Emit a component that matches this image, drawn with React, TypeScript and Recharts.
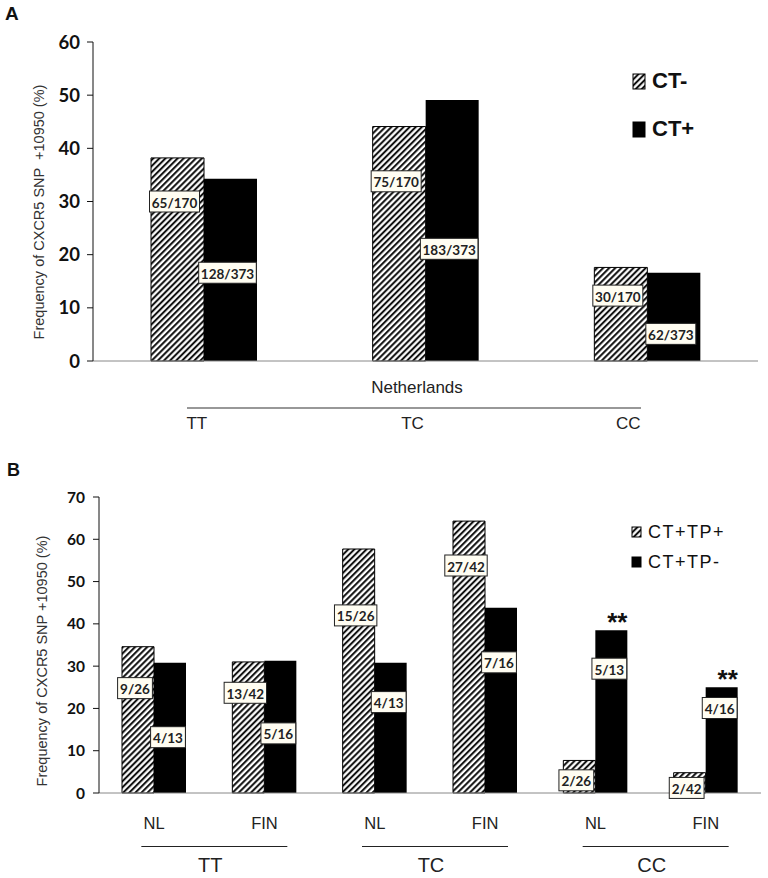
import { BarChart, Bar, XAxis, YAxis, LabelList, Legend } from "recharts";

// ---- panel A: Netherlands, CT- vs CT+ ----
const genotypesA = ["TT", "TC", "CC"];
const seriesA = ["CT-", "CT+"];
const ctNeg = [38.2, 44.1, 17.6];
const ctPos = [34.3, 49.1, 16.6];
const ctNegCounts = ["65/170", "75/170", "30/170"];
const ctPosCounts = ["128/373", "183/373", "62/373"];
const ticksA = [0, 10, 20, 30, 40, 50, 60];

// ---- panel B: NL / FIN, CT+TP+ vs CT+TP- ----
const popsB = ["NL", "FIN", "NL", "FIN", "NL", "FIN"];
const groupsB = ["TT", "TT", "TC", "TC", "CC", "CC"];
const seriesB = ["CT+TP+", "CT+TP-"];
const tpPos = [34.6, 31.0, 57.7, 64.3, 7.7, 4.8];
const tpNeg = [30.8, 31.3, 30.8, 43.8, 38.5, 25.0];
const tpPosCounts = ["9/26", "13/42", "15/26", "27/42", "2/26", "2/42"];
const tpNegCounts = ["4/13", "5/16", "4/13", "7/16", "5/13", "4/16"];
const sigB = ["", "", "", "", "**", "**"];
const ticksB = [0, 10, 20, 30, 40, 50, 60, 70];

const YTITLE_A = "Frequency of CXCR5 SNP  +10950 (%)";
const YTITLE_B = "Frequency of CXCR5 SNP +10950 (%)";

// layout only: height (in % units) at which each count box is centred
const boxAtA = { neg: [30, 33.8, 12.3], pos: [16.6, 21.1, 5.1] };
const boxAtB = {
  pos: [24.8, 23.7, 42, 53.8, 3.0, 1.2],
  neg: [13.2, 14.1, 21.5, 30.9, 29.4, 20.1],
};
const groupLabelShiftA = [7, 13, 19];

const dataA = genotypesA.map((g, i) => ({
  g,
  neg: ctNeg[i],
  pos: ctPos[i],
  negLbl: ctNegCounts[i],
  posLbl: ctPosCounts[i],
}));

const dataB = popsB.map((p, i) => ({
  p,
  grp: groupsB[i],
  tpp: tpPos[i],
  tpn: tpNeg[i],
  tppLbl: tpPosCounts[i],
  tpnLbl: tpNegCounts[i],
}));

const SANS = "'Liberation Sans', Arial, sans-serif";
const BOXFONT = "Lato, 'Liberation Sans', sans-serif";

const countBox = (values: number[], at: number[], dx: number) => (p: any) => {
  const vb = p.viewBox ?? p;
  const x = Number(vb.x), y = Number(vb.y), w = Number(vb.width), h = Number(vb.height);
  const i = p.index;
  const v = values[i];
  if (!v) return null;
  const text = String(p.value);
  const cx = x + w / 2 + dx;
  const cy = y + h - (h / v) * at[i];
  const digits = text.replace("/", "").length;
  const bw = digits * 7.6 + 12;
  return (
    <g key={`box-${i}`}>
      <rect x={cx - bw / 2} y={cy - 10.5} width={bw} height={21} fill="#fffdf2" stroke="#222" strokeWidth={1} />
      <text x={cx} y={cy + 1} textAnchor="middle" dominantBaseline="central" fontFamily={BOXFONT} fontWeight={700} fontSize={13.5} fill="#222">
        {text}
      </text>
    </g>
  );
};

const sigMark = (p: any) => {
  const vb = p.viewBox ?? p;
  const t = sigB[p.index];
  if (!t) return null;
  return (
    <text key={`sig-${p.index}`} x={Number(vb.x) + Number(vb.width) / 2 + 6} y={Number(vb.y) + 1} textAnchor="middle" fontFamily={SANS} fontWeight={700} fontSize={26} fill="#111">
      {t}
    </text>
  );
};

const legendBox = (order: string[], fontSize: number, bold: boolean, sw: [number, number], gap: number, spacing: number) => (props: any) => {
  const items = [...(props.payload || [])].sort((a: any, b: any) => order.indexOf(a.value) - order.indexOf(b.value));
  return (
    <div>
      {items.map((e: any, i: number) => (
        <div key={i} style={{ display: "flex", alignItems: "center", height: gap }}>
          <svg width={sw[0] + 2} height={sw[1] + 2} style={{ marginRight: 6 }}>
            <rect x={1} y={1} width={sw[0]} height={sw[1]} fill={e.color} stroke="#000" strokeWidth={1} />
          </svg>
          <span style={{ fontFamily: SANS, fontSize, fontWeight: bold ? 700 : 400, color: "#111", letterSpacing: spacing }}>{e.value}</span>
        </div>
      ))}
    </div>
  );
};

const yTitle = (title: string, cx: number, cy: number) => () => (
  <text x={cx} y={cy} transform={`rotate(-90 ${cx} ${cy})`} textAnchor="middle" dominantBaseline="central" fontFamily={SANS} fontSize={14.5} fill="#333" style={{ whiteSpace: "pre" }}>
    {title}
  </text>
);

const tickA = (props: any) => {
  const { x, index, payload } = props;
  return (
    <text x={Number(x) - groupLabelShiftA[index]} y={423} textAnchor="middle" dominantBaseline="central" fontFamily={SANS} fontSize={17} fill="#222">
      {payload.value}
    </text>
  );
};

const tickB = (props: any) => {
  const { x, index, payload } = props;
  const half = payload.offset || 55.2;
  const gx = Number(x) + half;
  return (
    <g>
      <text x={x} y={383} textAnchor="middle" dominantBaseline="central" fontFamily={SANS} fontSize={16.5} fill="#222">
        {payload.value}
      </text>
      {index % 2 === 0 && (
        <g>
          <line x1={gx + 5 - 73} x2={gx + 5 + 73} y1={406.5} y2={406.5} stroke="#222" strokeWidth={1.2} />
          <text x={gx + 1} y={425} textAnchor="middle" dominantBaseline="central" fontFamily={SANS} fontSize={20} fill="#222">
            {groupsB[index]}
          </text>
        </g>
      )}
    </g>
  );
};

const hatch = (id: string) => (
  <defs>
    <pattern id={id} patternUnits="userSpaceOnUse" width={4.3} height={4.3} patternTransform="rotate(45)">
      <rect width={4.3} height={4.3} fill="#fff" />
      <line x1={1.1} y1={-1} x2={1.1} y2={6} stroke="#000" strokeWidth={1.9} />
    </pattern>
  </defs>
);

export default function App() {
  return (
    <div style={{ position: "absolute", left: 0, top: 0, width: 768, height: 878, background: "#fff", overflow: "hidden" }}>
      <div style={{ position: "absolute", left: 0, top: 0 }}>
        <BarChart width={768} height={440} data={dataA} margin={{ top: 42, right: 10, bottom: 0, left: 0 }} barGap={0} barSize={53}>
          {hatch("hatchA")}
          <XAxis dataKey="g" height={79} interval={0} tickLine={false} axisLine={{ stroke: "#888" }} tick={tickA}
            label={{
              content: () => (
                <g>
                  <text x={417} y={387} textAnchor="middle" dominantBaseline="central" fontFamily={SANS} fontSize={17} fill="#222">Netherlands</text>
                  <line x1={187} x2={641} y1={408} y2={408} stroke="#333" strokeWidth={1.2} />
                </g>
              ),
            }}
          />
          <XAxis xAxisId="top" dataKey="g" orientation="top" height={0} tick={false} tickLine={false} axisLine={{ stroke: "#999" }} />
          <YAxis domain={[0, 60]} ticks={ticksA} width={93} tickSize={6} tickMargin={7} interval={0}
            axisLine={{ stroke: "#111" }} tickLine={{ stroke: "#111" }}
            tick={{ fontFamily: BOXFONT, fontWeight: 700, fontSize: 18.5, fill: "#111" }}
            label={{ content: yTitle(YTITLE_A, 39, 212) }}
          />
          <YAxis yAxisId="r" orientation="right" width={0} tick={false} tickLine={false} axisLine={{ stroke: "#999" }} />
          <Legend layout="vertical" align="center" verticalAlign="middle" content={legendBox(seriesA, 22, true, [12, 15], 48, 0)}
            wrapperStyle={{ position: "absolute", left: 632, top: 57, width: 130, height: 100 }} />
          <Bar dataKey="neg" name={seriesA[0]} fill="url(#hatchA)" stroke="#000" strokeWidth={1} isAnimationActive={false}>
            <LabelList dataKey="negLbl" content={countBox(ctNeg, boxAtA.neg, -3)} />
          </Bar>
          <Bar dataKey="pos" name={seriesA[1]} fill="#000" isAnimationActive={false}>
            <LabelList dataKey="posLbl" content={countBox(ctPos, boxAtA.pos, -3)} />
          </Bar>
        </BarChart>
      </div>

      <div style={{ position: "absolute", left: 0, top: 440 }}>
        <BarChart width={768} height={438} data={dataB} margin={{ top: 57, right: 7, bottom: 0, left: 0 }} barGap={0} barSize={32}>
          {hatch("hatchB")}
          <XAxis dataKey="p" height={85} interval={0} tickLine={false} axisLine={{ stroke: "#888" }} tick={tickB} />
          <XAxis xAxisId="top" dataKey="p" orientation="top" height={0} tick={false} tickLine={false} axisLine={{ stroke: "#999" }} />
          <YAxis domain={[0, 70]} ticks={ticksB} width={99} tickSize={6} tickMargin={8} interval={0}
            axisLine={{ stroke: "#111" }} tickLine={{ stroke: "#111" }}
            tick={{ fontFamily: BOXFONT, fontWeight: 700, fontSize: 15.5, fill: "#111" }}
            label={{ content: yTitle(YTITLE_B, 42, 221) }}
          />
          <YAxis yAxisId="r" orientation="right" width={0} tick={false} tickLine={false} axisLine={{ stroke: "#999" }} />
          <Legend layout="vertical" align="center" verticalAlign="middle" content={legendBox(seriesB, 18, false, [9, 10], 30, 1.5)}
            wrapperStyle={{ position: "absolute", left: 631, top: 77, width: 130, height: 60 }} />
          <Bar dataKey="tpp" name={seriesB[0]} fill="url(#hatchB)" stroke="#000" strokeWidth={1} isAnimationActive={false}>
            <LabelList dataKey="tppLbl" content={countBox(tpPos, boxAtB.pos, -3)} />
          </Bar>
          <Bar dataKey="tpn" name={seriesB[1]} fill="#000" isAnimationActive={false}>
            <LabelList dataKey="tpnLbl" content={countBox(tpNeg, boxAtB.neg, -2)} />
            <LabelList dataKey="tpnLbl" content={sigMark} />
          </Bar>
        </BarChart>
      </div>

      <div style={{ position: "absolute", left: 5, top: 3, fontFamily: SANS, fontWeight: 700, fontSize: 19, color: "#111" }}>A</div>
      <div style={{ position: "absolute", left: 7, top: 460, fontFamily: SANS, fontWeight: 700, fontSize: 18, color: "#111" }}>B</div>
    </div>
  );
}
